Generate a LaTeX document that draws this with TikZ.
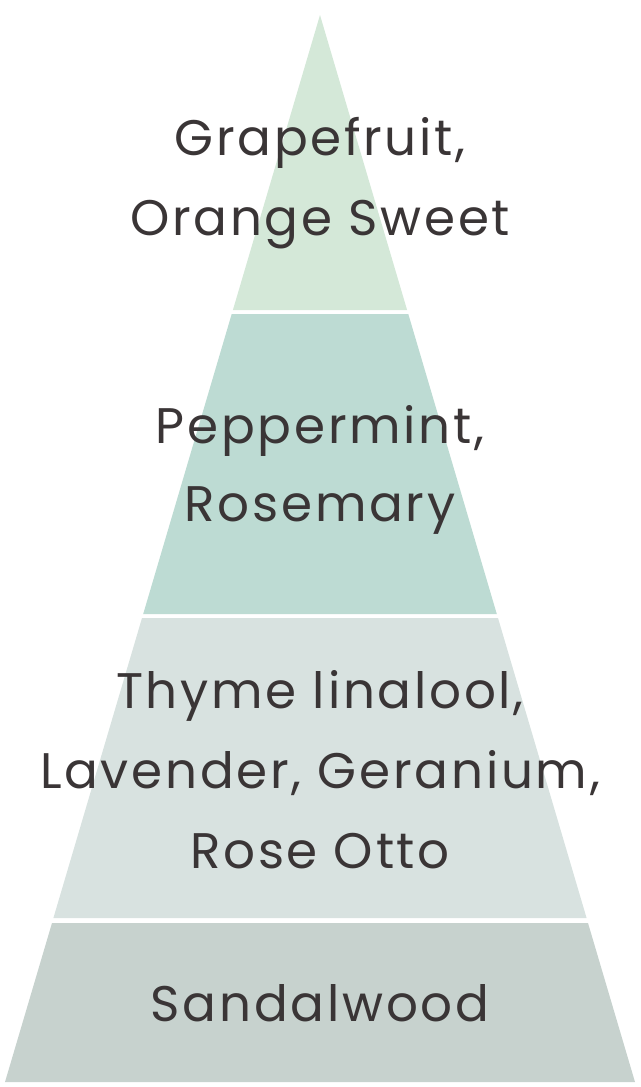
\documentclass[tikz,border=0pt]{standalone}
\usepackage{fontspec}
\setmainfont{Poppins}[LetterSpace=5.5]
\definecolor{bandA}{HTML}{D4E8D8}
\definecolor{bandB}{HTML}{BDDBD3}
\definecolor{bandC}{HTML}{D8E2E0}
\definecolor{bandD}{HTML}{C7D2CE}
\definecolor{txt}{HTML}{3A3536}
\begin{document}
\begin{tikzpicture}[x=1pt,y=-1pt,
  lbl/.style={anchor=base,inner sep=0pt,text=txt,font=\fontsize{50}{60}\selectfont}]
\useasboundingbox (0,0) rectangle (640,1087);
\fill[bandA] (320,15) -- (407.1,310) -- (232.9,310) -- cycle;
\fill[bandB] (231.7,314) -- (408.3,314) -- (496.8,614) -- (143.2,614) -- cycle;
\fill[bandC] (142.0,618) -- (498.0,618) -- (586.6,918) -- (53.4,918) -- cycle;
\fill[bandD] (52.0,923) -- (588.0,923) -- (635,1082) -- (5,1082) -- cycle;
\node[lbl] (g1) at (320,155) {Grapefruit,};
\node[lbl] (g2) at (320,235) {Orange Sweet};
\node[lbl] (p1) at (320,443) {Peppermint,};
\node[lbl] (p2) at (320,521) {Rosemary};
\node[lbl] (m1) at (320,708) {Thyme linalool,};
\node[lbl] (m2) at (320,788) {Lavender, Geranium,};
\node[lbl] (m3) at (320,868) {Rose Otto};
\node[lbl] (s1) at (320,1021) {Sandalwood};
\end{tikzpicture}
\end{document}
